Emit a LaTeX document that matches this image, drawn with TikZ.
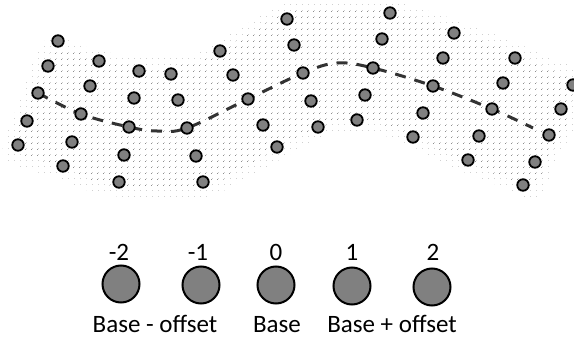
\documentclass[tikz,border=0pt]{standalone}
\usepackage{fontspec}
\setmainfont{Carlito}
\usetikzlibrary{patterns}
\pgfdeclarepatternformonly{stip}{\pgfpointorigin}{\pgfpoint{5.5pt}{5.5pt}}{\pgfpoint{5.5pt}{5.5pt}}{\pgfpathcircle{\pgfpoint{2.75pt}{2.75pt}}{0.5pt}\pgfusepath{fill}}
\tikzset{
  pt/.style={circle,draw=black,fill=black!50,line width=1.8pt,minimum size=11.5pt,inner sep=0pt},
  big/.style={circle,draw=black,fill=black!50,line width=2pt,minimum size=37pt,inner sep=0pt},
  lab/.style={font=\fontsize{25}{29}\selectfont,inner sep=0pt},
  trend/.style={line width=3pt,black!80,dash pattern=on 11pt off 9pt}
}
\begin{document}
\begin{tikzpicture}[x=1pt,y=-1pt]
\useasboundingbox (0,0) rectangle (574,337);
% stippled band (outer light, inner dark)
\fill[pattern=stip,pattern color=black!25] plot[smooth cycle,tension=0.6] coordinates {
 (46,40) (100,51) (150,58) (198,52) (240,28) (282,5) (320,0) (382,0) (432,12) (472,26) (512,41) (552,59) (578,72)
 (578,120) (556,160) (538,198) (500,186) (468,174) (438,160) (400,141) (360,131) (322,137) (292,153) (252,175) (210,196) (160,199) (100,194) (58,178) (4,157) (20,100)};
\fill[pattern=stip,pattern color=black!60] plot[smooth cycle,tension=0.6] coordinates {
 (54,50) (100,60) (150,67) (200,61) (242,38) (282,15) (320,9) (380,9) (430,22) (470,36) (510,51) (548,69) (570,82)
 (568,120) (550,155) (532,186) (500,176) (470,164) (440,150) (402,131) (360,121) (320,127) (288,143) (248,165) (208,186) (160,189) (102,184) (62,167) (16,148) (30,100)};
% trend line
\draw[trend] plot[smooth,tension=0.6] coordinates {(38,93) (81,114) (129,127) (157,131) (187,128) (248,99) (303,73) (337,63) (373,68) (433,86) (492,109) (533,128)};
% data points
\foreach \x/\y [count=\i] in {58/41,48/66,99/61,139/71,171/74,220/51,233/75,287/19,294/45,90/86,
 38/93,134/98,178/100,248/99,81/114,27/121,129/127,187/128,263/125,72/142,
 18/145,124/155,196/156,277/147,63/166,119/182,203/182,390/13,382/39,454/33,
 443/58,515/58,303/73,373/68,433/86,503/83,573/85,311/101,365/95,423/113,
 492/109,561/109,318/127,357/120,413/137,479/136,549/135,468/160,535/162,523/185}
  \node[pt] (p\i) at (\x,\y) {};
% legend
\node[big] (c1) at (121,284) {};
\node[big] (c2) at (201,285) {};
\node[big] (c3) at (276,285) {};
\node[big] (c4) at (352,286) {};
\node[big] (c5) at (432,287) {};
\node[lab,anchor=base] (n1) at (119,260) {-2};
\node[lab,anchor=base] (n2) at (198,260) {-1};
\node[lab,anchor=base] (n3) at (276,260) {0};
\node[lab,anchor=base] (n4) at (352,260) {1};
\node[lab,anchor=base] (n5) at (433,260) {2};
\node[lab,anchor=base] (l1) at (155,332) {Base - offset};
\node[lab,anchor=base] (l2) at (277,332) {Base};
\node[lab,anchor=base] (l3) at (392,332) {Base + offset};
\end{tikzpicture}
\end{document}
